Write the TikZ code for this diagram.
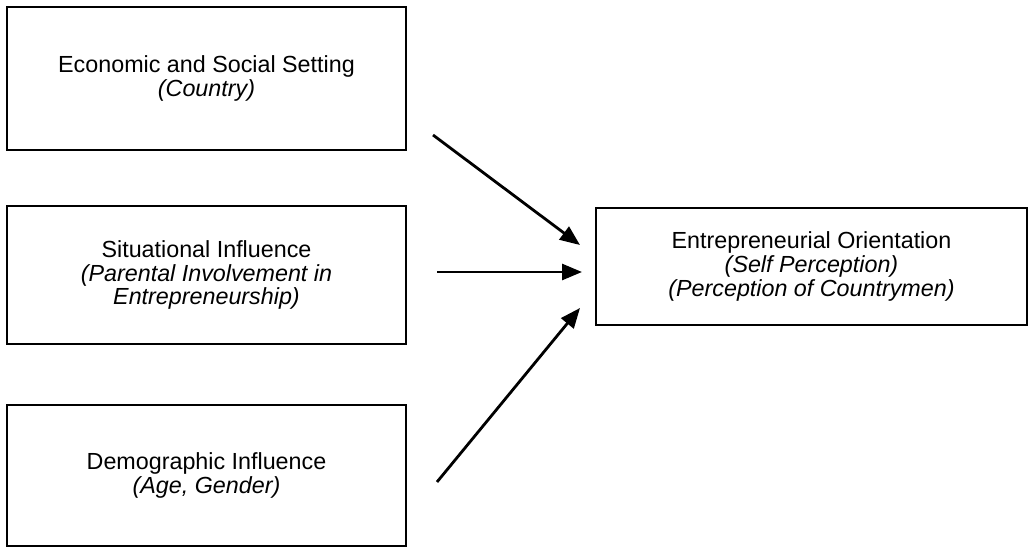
\documentclass[tikz,border=0pt]{standalone}
\usepackage{fontspec}
\setmainfont{Liberation Sans}
\usetikzlibrary{arrows.meta}
\begin{document}
\begin{tikzpicture}[x=1pt,y=-1pt,
  box/.style={draw, line width=2.8pt, align=center, inner sep=0pt,
    font=\fontsize{23.3}{23.8}\selectfont},
  conn/.style={line width=2.8pt, -{Triangle[length=20pt,width=16pt]}}]
\useasboundingbox (0,0) rectangle (1031,548);
\node[box, minimum width=399pt, minimum height=143pt] (b1) at (206.5,78.5)
  {Economic and Social Setting\\\textit{(Country)}};
\node[box, minimum width=399pt, minimum height=138pt] (b2) at (206.5,275)
  {Situational Influence\\\textit{(Parental Involvement in}\\\textit{Entrepreneurship)}};
\node[box, minimum width=399pt, minimum height=141pt] (b3) at (206.5,475.5)
  {Demographic Influence\\\textit{(Age, Gender)}};
\node[box, minimum width=431pt, minimum height=117pt] (b4) at (811.5,266.5)
  {Entrepreneurial Orientation\\\textit{(Self Perception)}\\\textit{(Perception of Countrymen)}};
\coordinate (a1s) at (433,135);
\coordinate (a1e) at (580,245);
\coordinate (a2s) at (437,272);
\coordinate (a2e) at (582,272);
\coordinate (a3s) at (437,482);
\coordinate (a3e) at (580,308);
\draw[conn] (a1s) -- (a1e);
\draw[conn] (a2s) -- (a2e);
\draw[conn] (a3s) -- (a3e);
\end{tikzpicture}
\end{document}
